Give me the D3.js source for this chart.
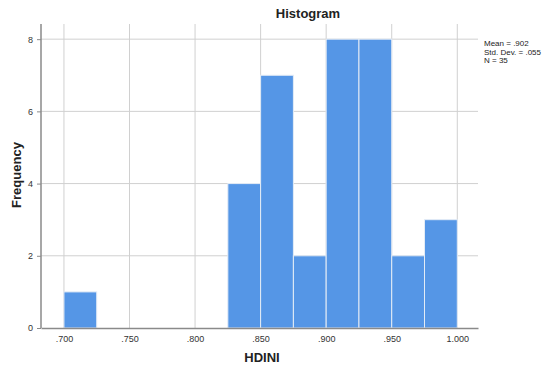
<!DOCTYPE html>
<html>
<head>
<meta charset="utf-8">
<script src="https://cdnjs.cloudflare.com/ajax/libs/d3/7.8.5/d3.min.js"></script>
<style>
body { margin: 0; background: #fff; }
text { font-family: Arial, "Liberation Sans", sans-serif; }
</style>
</head>
<body>
<div id="chart"></div>
<script>
// bins of HDINI (lower edge, upper edge) and their counts
var binStart = [0.700, 0.825, 0.850, 0.875, 0.900, 0.925, 0.950, 0.975];
var binEnd   = [0.725, 0.850, 0.875, 0.900, 0.925, 0.950, 0.975, 1.000];
var counts   = [1, 4, 7, 2, 8, 8, 2, 3];
var xTicks = [0.700, 0.750, 0.800, 0.850, 0.900, 0.950, 1.000];
var yTicks = [0, 2, 4, 6, 8];
var stats = ["Mean = .902", "Std. Dev. = .055", "N = 35"];

var width = 546, height = 372;
var margin = {left: 41, top: 24, right: 68, bottom: 44};
var w = width - margin.left - margin.right,
    h = height - margin.top - margin.bottom;

var svg = d3.select("#chart").append("svg")
    .attr("width", width)
    .attr("height", height);

var x = d3.scaleLinear().domain([0.6825, 1.0158]).range([0, w]);
var y = d3.scaleLinear().domain([0, 8.42]).range([h, 0]);

var g = svg.append("g")
    .attr("transform", "translate(" + margin.left + "," + margin.top + ")");

// grid
g.append("g").selectAll("line")
    .data(xTicks)
  .enter().append("line")
    .attr("x1", function(d) { return x(d); })
    .attr("x2", function(d) { return x(d); })
    .attr("y1", 0).attr("y2", h)
    .attr("stroke", "#d0d0d0").attr("stroke-width", 1);

g.append("g").selectAll("line")
    .data(yTicks.slice(1))
  .enter().append("line")
    .attr("x1", 0).attr("x2", w)
    .attr("y1", function(d) { return y(d); })
    .attr("y2", function(d) { return y(d); })
    .attr("stroke", "#d0d0d0").attr("stroke-width", 1);

// bars
g.selectAll(".bar")
    .data(counts)
  .enter().append("rect")
    .attr("class", "bar")
    .attr("x", function(d, i) { return x(binStart[i]); })
    .attr("y", function(d) { return y(d); })
    .attr("width", function(d, i) { return x(binEnd[i]) - x(binStart[i]); })
    .attr("height", function(d) { return h - y(d); })
    .attr("fill", "#5596e6")
    .attr("stroke", "#e4ecf6")
    .attr("stroke-width", 1);

// axes
var xAxis = g.append("g")
    .attr("transform", "translate(0," + h + ")")
    .call(d3.axisBottom(x).tickValues(xTicks).tickSize(0).tickPadding(8)
      .tickFormat(function(d) { return d === 1 ? "1.000" : d3.format(".3f")(d).replace(/^0/, ""); }));
xAxis.select(".domain").attr("stroke", "#8a8a8a").attr("stroke-width", 1.5);

var yAxis = g.append("g")
    .call(d3.axisLeft(y).tickValues(yTicks).tickSize(4).tickPadding(4));
yAxis.select(".domain").attr("stroke", "#8a8a8a").attr("stroke-width", 1.5)
    .attr("d", "M0," + h + "V0");
yAxis.selectAll(".tick line").attr("stroke", "#8a8a8a");

svg.selectAll(".tick text")
    .attr("font-size", 9)
    .attr("font-family", "Arial, 'Liberation Sans', sans-serif")
    .attr("fill", "#333");

// titles
svg.append("text")
    .attr("x", 308).attr("y", 18)
    .attr("text-anchor", "middle")
    .attr("font-size", 13).attr("font-weight", "bold")
    .attr("fill", "#222")
    .text("Histogram");

svg.append("text")
    .attr("x", 262).attr("y", 362)
    .attr("text-anchor", "middle")
    .attr("font-size", 13).attr("font-weight", "bold")
    .attr("fill", "#222")
    .text("HDINI");

svg.append("text")
    .attr("transform", "translate(21,175) rotate(-90)")
    .attr("text-anchor", "middle")
    .attr("font-size", 13).attr("font-weight", "bold")
    .attr("fill", "#222")
    .text("Frequency");

svg.append("g").selectAll("text")
    .data(stats)
  .enter().append("text")
    .attr("x", 484)
    .attr("y", function(d, i) { return 46 + i * 8.5; })
    .attr("font-size", 8)
    .attr("fill", "#222")
    .text(function(d) { return d; });
</script>
</body>
</html>
